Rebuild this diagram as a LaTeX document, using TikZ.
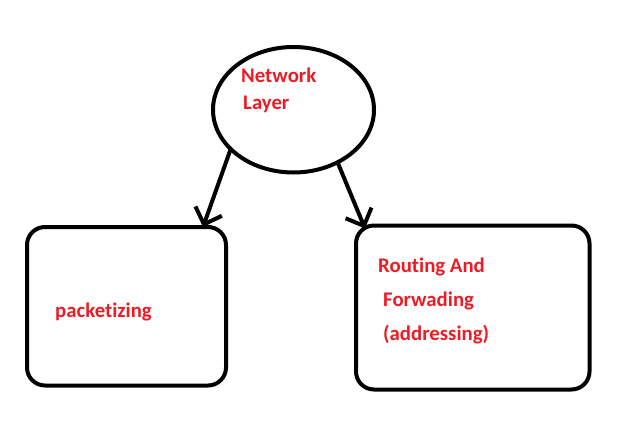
\documentclass[tikz,border=0pt]{standalone}
\usepackage{fontspec}
\setmainfont{Carlito}[RawFeature=-liga]
\usetikzlibrary{shapes.geometric,arrows.meta}
\definecolor{paintred}{RGB}{237,28,36}
\tikzset{
  lbl/.style = {anchor=base west, inner sep=0, text=paintred, font=\fontsize{20.8}{24}\selectfont\bfseries},
  blk/.style = {draw, line width=4pt, rounded corners=18pt, inner sep=0, outer sep=0},
  arr/.style = {line width=4pt, -{Straight Barb[length=14pt,width=28pt]}}
}

\begin{document}
\begin{tikzpicture}[x=1pt, y=-1pt]
\useasboundingbox (0,0) rectangle (620,439);
\node [draw, ellipse, line width=4pt, minimum width=161pt, minimum height=125.5pt, inner sep=0, outer sep=0] (net) at (293.5,109.75) {};
\node [blk, minimum width=199pt, minimum height=158.5pt] (pack) at (126.5,306.25) {};
\node [blk, minimum width=233.5pt, minimum height=164pt] (route) at (472.75,307.5) {};
% labels
\node [lbl] (netA) at (241,82) {Network};
\node [lbl] (netB) at (243,109) {Layer};
\node [lbl] (packT) at (55,317) {packetizing};
\node [lbl] (routeA) at (378,272) {Routing And};
\node [lbl] (routeB) at (383,306) {Forwading};
\node [lbl] (routeC) at (383,340) {(addressing)};
% arrows
\draw [arr] (net.212) -- ([xshift=-23pt]pack.north east);
\draw [arr] (net.310) -- ([xshift=9pt, yshift=-3pt]route.north west);
\end{tikzpicture}
\end{document}
